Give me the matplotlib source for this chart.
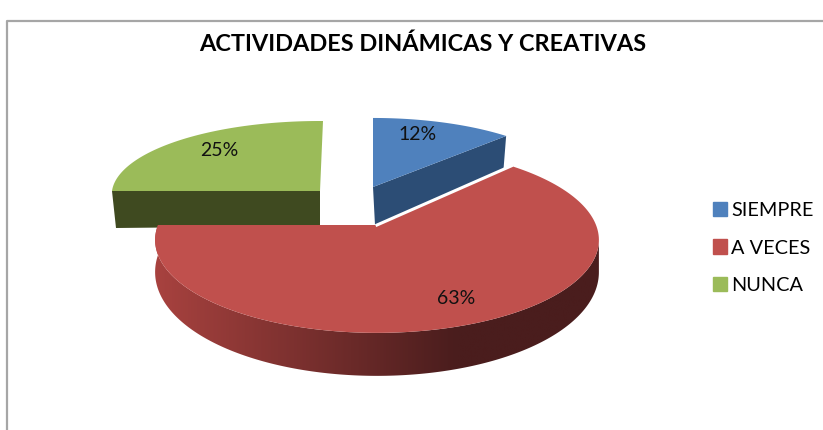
import numpy as np
import matplotlib
matplotlib.use('Agg')
import matplotlib.pyplot as plt
from matplotlib.colors import LinearSegmentedColormap
from matplotlib.patches import Patch, Polygon

title = 'ACTIVIDADES DINÁMICAS Y CREATIVAS'
categories = ['SIEMPRE', 'A VECES', 'NUNCA']
values = [12, 63, 25]
colors = ['#4F81BD', '#C0504D', '#9BBB59']
side_colors = ['#2C4D75', None, '#3F4A20']

# cada porcion: centro (px), radio, altura, perspectiva, grosor
geom = [
    dict(cx=373, cy=187, r=202, h=72.7, k=0.053, d=38),
    dict(cx=377, cy=225, r=219, h=90.5, k=0.161, d=42),
    dict(cx=320, cy=191, r=208, h=73.5, k=0.05, d=37),
]
label_pos = [(418, 135), (456, 298), (219, 150)]


def outline(g, a0, a1, n=200):
    # borde del disco, angulos desde las 12 en sentido horario
    t = np.radians(np.linspace(a0, a1, n))
    u, v = np.sin(t), np.cos(t)
    s = 1 / (1 + g['k'] * v)
    return g['cx'] + g['r'] * u * s, g['cy'] - g['h'] * v * s


fig = plt.figure(figsize=(8.23, 4.30), dpi=100)
ax = fig.add_axes([0, 0, 1, 1])
ax.set_xlim(0, 823)
ax.set_ylim(430, 0)
ax.axis('off')

# marco gris
ax.plot([7.5, 7.5, 823], [430, 20.5, 20.5], color='#A6A6A6', lw=1.6)

edges = np.cumsum([0] + values) * 360 / sum(values)

# verde
g = geom[2]
x, y = outline(g, edges[2], edges[3])
ax.add_patch(Polygon([(x[0], y[0]), (x[0] + 4, y[0] + g['d']),
                      (g['cx'], g['cy'] + g['d'] - 2), (g['cx'], g['cy'])],
                     color=side_colors[2], lw=0))
ax.fill(np.r_[g['cx'], x, g['cx'] + 3], np.r_[g['cy'], y, y[-1]], color=colors[2], lw=0)

# azul
g = geom[0]
x, y = outline(g, edges[0], edges[1])
ax.add_patch(Polygon([(g['cx'], g['cy']), (x[-1], y[-1]),
                      (x[-1] - 3, y[-1] + g['d']),
                      (g['cx'] + 2, g['cy'] + g['d'])],
                     color=side_colors[0], lw=0))
ax.fill(np.r_[g['cx'], x], np.r_[g['cy'], y], color=colors[0], lw=0)

# rojo: lateral con degradado, mas fino hacia los costados
g = geom[1]
a = np.linspace(99, edges[2], 200)
x, y = outline(g, 99, edges[2])
low = y + 30 + 13 * np.clip(-np.cos(np.radians(a)), 0, 1)
side = np.r_[np.c_[x, y], np.c_[x, low][::-1]]
cmap = LinearSegmentedColormap.from_list(
    'lado', [(0, '#A8423F'), (0.68, '#4A1D1D'), (1, '#4A1D1D')])
im = ax.imshow(np.linspace(0, 1, 256)[None, :], extent=(155, 599, 376, 225),
               cmap=cmap, aspect='auto', zorder=3)
im.set_clip_path(Polygon(side, transform=ax.transData))
ax.set_xlim(0, 823)
ax.set_ylim(430, 0)
x, y = outline(g, edges[1], edges[2])
ax.fill(np.r_[g['cx'], x], np.r_[g['cy'], y], color=colors[1], lw=0, zorder=4)
# separacion blanca junto a la porcion azul
ax.plot([g['cx'], x[0]], [g['cy'], y[0]], color='white', lw=2.2, zorder=4)

for val, (px, py) in zip(values, label_pos):
    ax.text(px, py, f'{val}%', ha='center', va='center', fontsize=14,
            family='Lato', color='#111111', zorder=5)

ax.text(423, 44, title, ha='center', va='center', fontsize=16.9,
        family='Lato', weight='bold', color='black')

handles = [Patch(color=c) for c in colors]
ax.legend(handles, categories, loc='center left', bbox_to_anchor=(713 / 823, 1 - 248 / 430),
          frameon=False, handlelength=0.72, handleheight=0.72, handletextpad=0.2,
          labelspacing=1.02, borderpad=0, borderaxespad=0,
          prop={'family': 'Lato', 'size': 14.3})

fig.savefig('out.png', dpi=100)
